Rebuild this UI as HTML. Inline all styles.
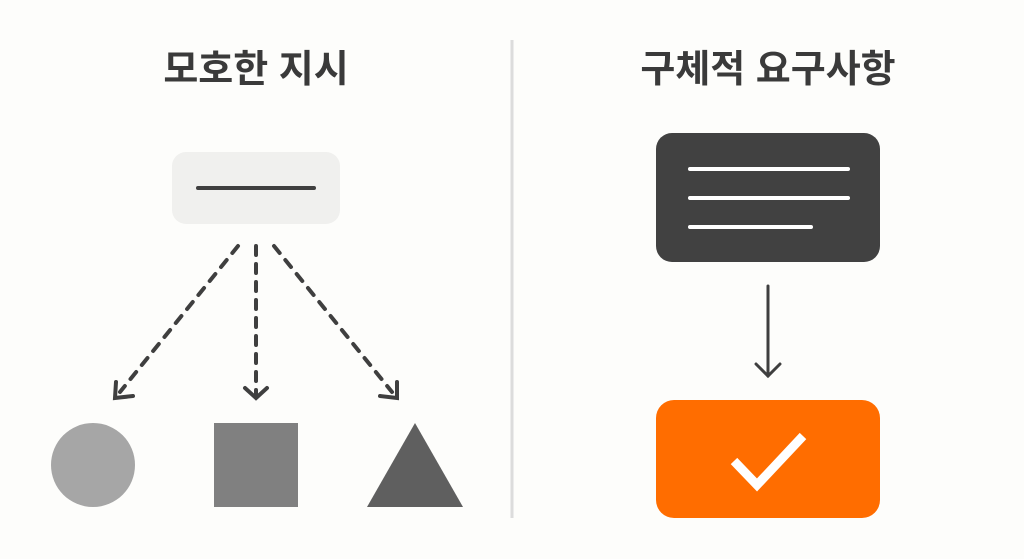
<!DOCTYPE html>
<html><head><meta charset="utf-8"><style>
html,body{margin:0;padding:0;background:#fdfdfb;}
svg{display:block}
text{font-family:"Liberation Sans","Noto Sans CJK KR",sans-serif;font-weight:700;fill:#3a3a3a}
</style></head><body>
<svg width="1024" height="559" viewBox="0 0 1024 559" xmlns="http://www.w3.org/2000/svg">
<rect width="1024" height="559" fill="#fdfdfb"/>
<text x="256" y="82" font-size="38" text-anchor="middle">모호한 지시</text>
<text x="768" y="82" font-size="38" text-anchor="middle">구체적 요구사항</text>
<line x1="512" y1="40" x2="512" y2="518" stroke="#dcdcdc" stroke-width="3"/>
<rect x="172" y="152" width="168" height="72" rx="14" fill="#f0f0ee"/>
<line x1="198" y1="188" x2="314" y2="188" stroke="#3f3f3f" stroke-width="4" stroke-linecap="round"/>
<g stroke="#3f3f3f" stroke-width="4" stroke-linecap="round" fill="none">
<line x1="238" y1="246" x2="120" y2="392" stroke-dasharray="9 9"/>
<line x1="256" y1="246" x2="256" y2="394" stroke-dasharray="9 9"/>
<line x1="274" y1="246" x2="392" y2="392" stroke-dasharray="9 9"/>
<polyline points="116,382 115,398 133,396"/>
<polyline points="245,388 256,398 267,388"/>
<polyline points="397,382 397,398 380,396"/>
</g>
<circle cx="93" cy="465" r="42" fill="#a6a6a6"/>
<rect x="214" y="423" width="84" height="84" fill="#808080"/>
<polygon points="415,423 367,507 463,507" fill="#5f5f5f"/>
<rect x="656" y="133" width="224" height="129" rx="16" fill="#414141"/>
<g stroke="#fff" stroke-width="4" stroke-linecap="round">
<line x1="690" y1="169" x2="848" y2="169"/>
<line x1="690" y1="198" x2="848" y2="198"/>
<line x1="690" y1="227" x2="811" y2="227"/>
</g>
<line x1="768" y1="286" x2="768" y2="376" stroke="#3f3f3f" stroke-width="3" stroke-linecap="round"/>
<polyline points="756,364 768,376 780,364" stroke="#3f3f3f" stroke-width="3" fill="none" stroke-linecap="round"/>
<rect x="656" y="400" width="224" height="118" rx="18" fill="#ff6d00"/>
<polyline points="734,461 757,485 803,436" stroke="#fff" stroke-width="9" fill="none"/>
</svg>
</body></html>
